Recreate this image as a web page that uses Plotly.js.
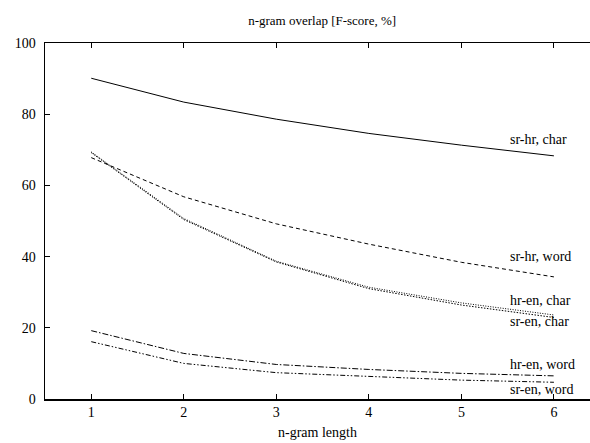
<!DOCTYPE html>
<html>
<head>
<meta charset="utf-8">
<script src="https://cdn.plot.ly/plotly-3.0.1.min.js"></script>
<style>html,body{margin:0;padding:0;background:#fff;}#chart{width:590px;height:443px;}</style>
</head>
<body>
<div id="chart"></div>
<script>
var ngramLength = [1, 2, 3, 4, 5, 6];
var seriesNames = ["sr-hr, char", "sr-hr, word", "hr-en, char", "sr-en, char", "hr-en, word", "sr-en, word"];
var srHrChar = [90.1, 83.4, 78.6, 74.6, 71.3, 68.3];
var srHrWord = [67.8, 56.8, 49.2, 43.5, 38.4, 34.3];
var hrEnChar = [69.4, 50.7, 38.7, 31.4, 27.0, 23.6];
var srEnChar = [69.2, 50.4, 38.5, 31.0, 26.4, 22.9];
var hrEnWord = [19.2, 12.8, 9.7, 8.3, 7.2, 6.5];
var srEnWord = [16.1, 10.0, 7.4, 6.3, 5.3, 4.7];
var yTicks = [0, 20, 40, 60, 80, 100];

var FONT = "'Liberation Serif', 'DejaVu Serif', serif";
var allSeries = [srHrChar, srHrWord, hrEnChar, srEnChar, hrEnWord, srEnWord];
var dashes = ["solid", "4px,3px", "1px,1.5px", "1.5px,1.5px", "6px,2px,1.5px,2px", "5px,2px,1.5px,2px,1.5px,2px"];
var labelY = [73, 40, 27.6, 21.7, 9.8, 2.7];

var traces = allSeries.map(function (ys, i) {
  return {
    x: ngramLength, y: ys, name: seriesNames[i], type: "scatter", mode: "lines",
    line: {color: "#000", width: 1, dash: dashes[i]}, showlegend: false, hoverinfo: "skip"
  };
});

var annotations = seriesNames.map(function (n, i) {
  return {x: 5.5, y: labelY[i], xref: "x", yref: "y", text: n, showarrow: false,
          xanchor: "left", yanchor: "middle", font: {family: FONT, size: 14, color: "#000"}};
});

var layout = {
  width: 590, height: 443,
  margin: {l: 45, r: 0, t: 43, b: 44},
  paper_bgcolor: "#fff", plot_bgcolor: "#fff",
  font: {family: FONT, size: 14, color: "#000"},
  title: {text: "n-gram overlap [F-score, %]", xref: "container", x: 0.546, xanchor: "center",
          yref: "container", y: 0.953, yanchor: "middle", font: {family: FONT, size: 13, color: "#000"}},
  xaxis: {
    range: [0.5, 6.39], tickvals: ngramLength, ticks: "inside", ticklen: 5, tickcolor: "#000",
    showline: true, linecolor: "#000", linewidth: 1.5, mirror: "ticks", showgrid: false, zeroline: false,
    tickfont: {family: FONT, size: 14},
    title: {text: "n-gram length", standoff: 8, font: {family: FONT, size: 14}}
  },
  yaxis: {
    range: [0, 100], tickvals: yTicks, ticks: "inside", ticklen: 5, tickcolor: "#000",
    showline: true, linecolor: "#000", linewidth: 1.5, showgrid: false, zeroline: false,
    tickfont: {family: FONT, size: 14}, ticklabelstandoff: 5
  },
  annotations: annotations
};

Plotly.newPlot("chart", traces, layout, {staticPlot: true, displayModeBar: false});
</script>
</body>
</html>
